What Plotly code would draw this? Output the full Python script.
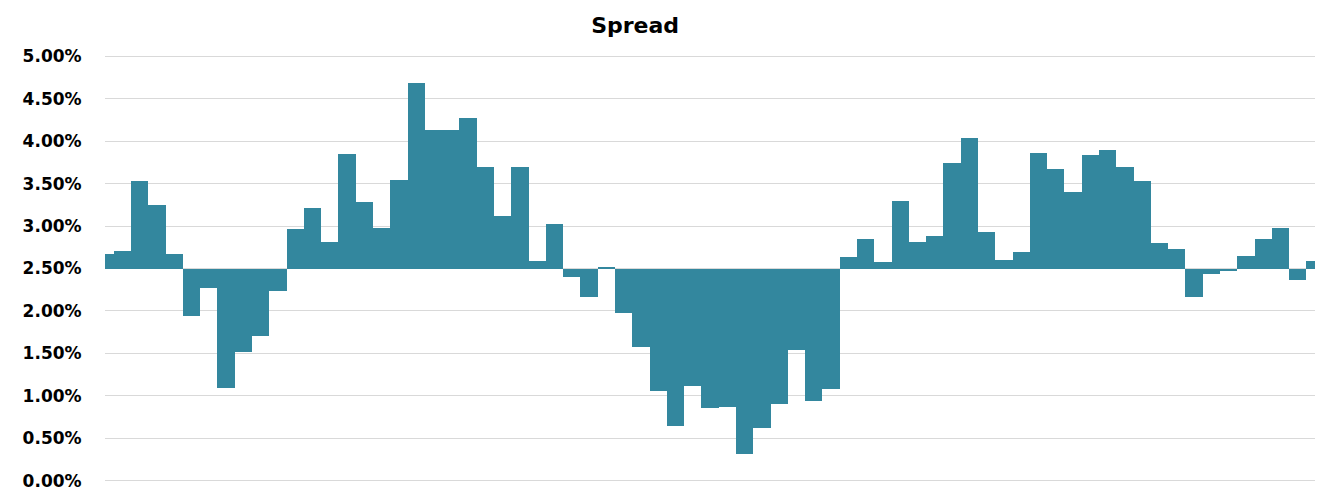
import plotly.graph_objects as go

# Spread values (%), 71 periods
spread = [
    2.67, 2.71, 3.53, 3.25, 2.67, 1.94, 2.27, 1.09, 1.52, 1.70,
    2.23, 2.96, 3.21, 2.81, 3.85, 3.28, 2.98, 3.54, 4.69, 4.13,
    4.13, 4.27, 3.69, 3.12, 3.70, 2.59, 3.02, 2.40, 2.17, 2.52,
    1.97, 1.58, 1.06, 0.65, 1.12, 0.86, 0.87, 0.32, 0.62, 0.90,
    1.54, 0.94, 1.08, 2.64, 2.85, 2.58, 3.29, 2.81, 2.88, 3.74,
    4.04, 2.93, 2.60, 2.70, 3.86, 3.67, 3.40, 3.84, 3.90, 3.70,
    3.53, 2.80, 2.73, 2.16, 2.44, 2.47, 2.65, 2.85, 2.98, 2.37,
    2.59,
]
periods = list(range(len(spread)))
baseline = 2.5
y_ticks = [0, 0.5, 1.0, 1.5, 2.0, 2.5, 3.0, 3.5, 4.0, 4.5, 5.0]
y_tick_labels = [f"{v:.2f}%" for v in y_ticks]

FONT = "DejaVu Sans, Verdana, Arial"

fig = go.Figure(
    go.Bar(
        x=periods,
        y=[v - baseline for v in spread],
        base=baseline,
        width=1,
        marker=dict(color="#33879E", line=dict(width=0)),
        customdata=spread,
        hovertemplate="%{customdata:.2f}%<extra></extra>",
    )
)

fig.update_layout(
    width=1326,
    height=491,
    margin=dict(l=105, r=11, t=55, b=9, autoexpand=False),
    paper_bgcolor="white",
    plot_bgcolor="white",
    showlegend=False,
    bargap=0,
    title=dict(
        text="<b>Spread</b>",
        x=0.479,
        xref="container",
        xanchor="center",
        y=0.948,
        yref="container",
        yanchor="middle",
        font=dict(family=FONT, size=22, color="#000000"),
    ),
    font=dict(family=FONT, color="#000000"),
)

fig.update_xaxes(
    range=[0, len(spread) - 1],
    showticklabels=False,
    showgrid=False,
    zeroline=False,
    showline=False,
    ticks="",
    automargin=False,
)

fig.update_yaxes(
    range=[-0.015, 5.015],
    tickvals=y_ticks,
    ticktext=[f"<b>{t}</b>" for t in y_tick_labels],
    tickfont=dict(family=FONT, size=17, color="#000000"),
    showgrid=True,
    gridcolor="#D9D9D9",
    gridwidth=1.3,
    zeroline=False,
    showline=False,
    ticks="outside",
    ticklen=19,
    tickcolor="rgba(0,0,0,0)",
    automargin=False,
)

fig.write_html("out.html")
